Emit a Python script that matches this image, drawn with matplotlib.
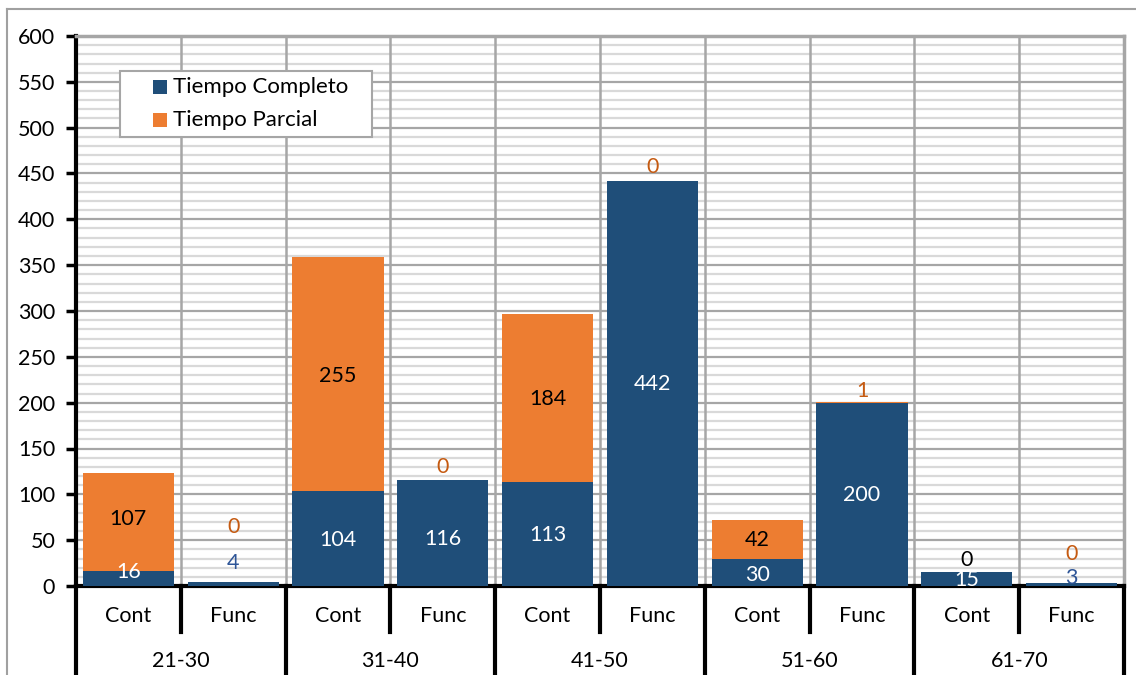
import matplotlib.pyplot as plt
import numpy as np
from matplotlib.lines import Line2D
from matplotlib.patches import Rectangle

plt.rcParams['font.family'] = ['Lato', 'DejaVu Sans']

groups = ['21-30', '31-40', '41-50', '51-60', '61-70']
subcats = ['Cont', 'Func'] * 5
completo = [16, 4, 104, 116, 113, 442, 30, 200, 15, 3]
parcial = [107, 0, 255, 0, 184, 0, 42, 1, 0, 0]

# where the data labels sit (value units) and their colours
completo_lab_y = [15, 25, 50, 51, 56, 220, 12, 99, 6.5, 9]
completo_lab_c = ['white', '#2E5597', 'white', 'white', 'white', 'white', 'white', 'white', 'white', '#2E5597']
parcial_lab_y = [73, 64, 229, 130, 204, 457, 50, 213, 28, 35]
parcial_lab_c = ['black', '#C55A11', 'black', '#C55A11', 'black', '#C55A11', 'black', '#C55A11', 'black', '#C55A11']

blue = '#1F4E79'
orange = '#ED7D31'
fs = 15.5

W, H = 1136, 675
fig = plt.figure(figsize=(W / 100, H / 100), dpi=100)
ax = fig.add_axes([76 / W, (H - 586) / H, (1124 - 76) / W, 550 / H])

x = np.arange(len(completo))
ax.bar(x, completo, 0.87, color=blue, label='Tiempo Completo', zorder=3)
ax.bar(x, parcial, 0.87, bottom=completo, color=orange, label='Tiempo Parcial', zorder=3)

for i in range(len(x)):
    ax.text(x[i], completo_lab_y[i], str(completo[i]), ha='center', va='center',
            color=completo_lab_c[i], fontsize=fs, zorder=5)
    ax.text(x[i], parcial_lab_y[i], str(parcial[i]), ha='center', va='center',
            color=parcial_lab_c[i], fontsize=fs, zorder=5)

ax.set_xlim(-0.5, 9.5)
ax.set_ylim(0, 600)
ax.set_yticks(np.arange(0, 601, 50))
ax.set_yticks(np.arange(0, 601, 10), minor=True)
ax.tick_params(axis='y', which='major', length=7, width=2.5, labelsize=fs, pad=8)
ax.tick_params(axis='y', which='minor', length=0)
ax.set_xticks([])

ax.grid(axis='y', which='minor', color='#D9D9D9', linewidth=1.6)
ax.grid(axis='y', which='major', color='#A6A6A6', linewidth=1.6)
for b in np.arange(0.5, 9.5, 1):
    ax.axvline(b, color='#A6A6A6', linewidth=1.8, zorder=2)

ax.spines['left'].set_linewidth(3)
ax.spines['bottom'].set_linewidth(3)
ax.spines['top'].set_color('#A6A6A6')
ax.spines['right'].set_color('#A6A6A6')
ax.spines['top'].set_linewidth(2.5)
ax.spines['right'].set_linewidth(2.5)

# category axis below the plot
trans = ax.get_xaxis_transform()
long_y = -(H - 586) / 550 - 0.05
short_y = -(632 - 586) / 550
for b in np.arange(-0.5, 10, 1):
    is_group = (b + 0.5) % 2 == 0
    ax.plot([b, b], [0, long_y if is_group else short_y], color='black', lw=3,
            transform=trans, clip_on=False, zorder=6)
for i, s in enumerate(subcats):
    ax.text(i, -(616 - 586) / 550, s, transform=trans, ha='center', va='center', fontsize=fs)
for j, g in enumerate(groups):
    ax.text(2 * j + 0.5, -(661 - 586) / 550, g, transform=trans, ha='center', va='center', fontsize=fs)

# legend box, drawn by hand to get Excel's padding
def px(xp, yp):
    return xp / W, 1 - yp / H

fig.add_artist(Rectangle(px(120, 137), 252 / W, 66 / H, transform=fig.transFigure,
                         facecolor='white', edgecolor='#A6A6A6', lw=1.5, zorder=10))
for k, (lab, col) in enumerate([('Tiempo Completo', blue), ('Tiempo Parcial', orange)]):
    yc = 87 + 33 * k
    fig.add_artist(Rectangle(px(153, yc + 7), 14 / W, 14 / H, transform=fig.transFigure,
                             facecolor=col, edgecolor='none', zorder=11))
    fig.text(*px(173, yc), lab, ha='left', va='center', fontsize=16, zorder=11)

# outer chart border
fig.add_artist(Line2D([7 / W, 7 / W], [0, 1 - 9 / H], color='#A0A0A0', lw=1.5))
fig.add_artist(Line2D([7 / W, 1], [1 - 9 / H, 1 - 9 / H], color='#A0A0A0', lw=1.5))

fig.savefig('out.png', dpi=100)
